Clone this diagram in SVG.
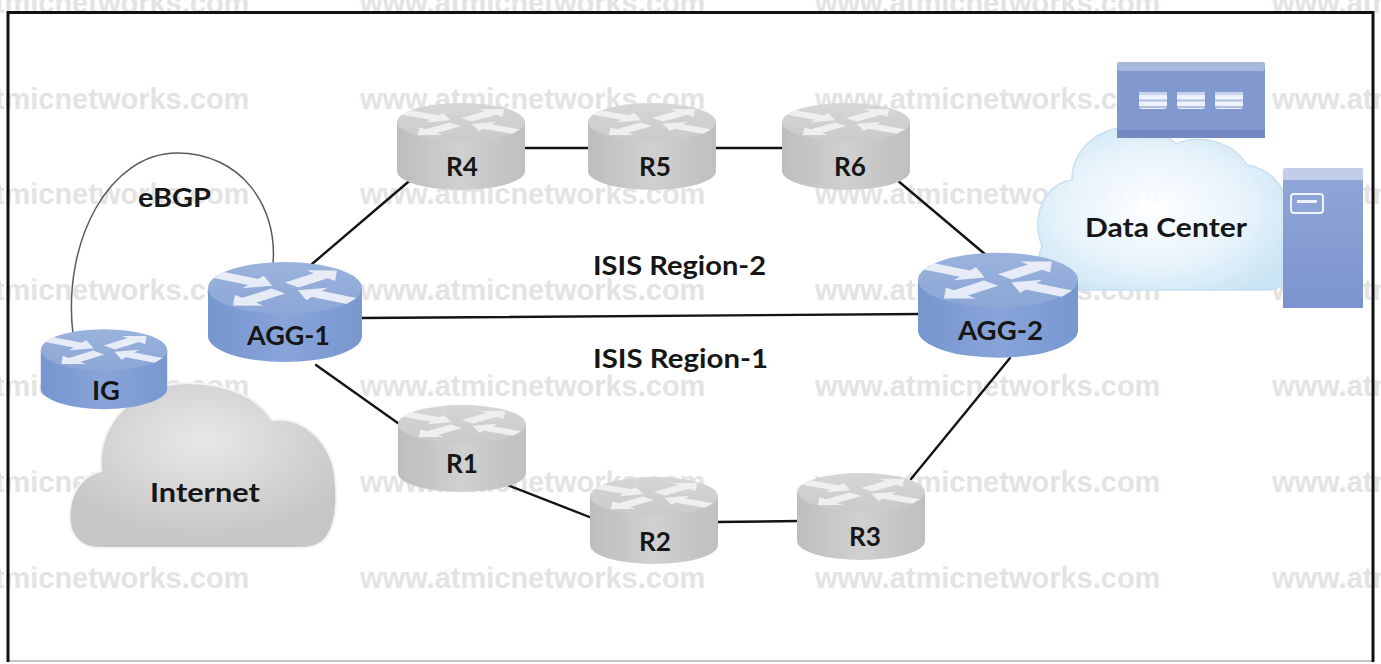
<svg xmlns="http://www.w3.org/2000/svg" xmlns:xlink="http://www.w3.org/1999/xlink" width="1381" height="664" viewBox="0 0 1381 664">
  <defs>
    <style>
      .wm { font-family: "Liberation Sans", Arial, sans-serif; font-weight: bold; font-size: 29px; fill: #e3e3e3; }
      .lbl { font-family: Lato, "Open Sans", "Liberation Sans", sans-serif; font-weight: bold; font-size: 26px; fill: #161616; }
      .link { stroke: #141414; stroke-width: 2.4; fill: none; stroke-linecap: round; }
      .arc { stroke: #5a5a5a; stroke-width: 1.5; fill: none; }
    </style>
    <linearGradient id="gSide" x1="0" y1="0" x2="1" y2="0">
      <stop offset="0" stop-color="#bdbdbd"/>
      <stop offset="0.5" stop-color="#d0d0d0"/>
      <stop offset="1" stop-color="#bfbfbf"/>
    </linearGradient>
    <linearGradient id="gTop" x1="0" y1="0" x2="0" y2="1">
      <stop offset="0" stop-color="#d6d6d6"/>
      <stop offset="1" stop-color="#cacaca"/>
    </linearGradient>
    <linearGradient id="bSide" x1="0" y1="0" x2="1" y2="0">
      <stop offset="0" stop-color="#7696cf"/>
      <stop offset="0.5" stop-color="#88a4d9"/>
      <stop offset="1" stop-color="#7898d0"/>
    </linearGradient>
    <linearGradient id="bTop" x1="0" y1="0" x2="0" y2="1">
      <stop offset="0" stop-color="#9ab2dd"/>
      <stop offset="1" stop-color="#8ca6d6"/>
    </linearGradient>
    <radialGradient id="netFill" cx="0.5" cy="0.35" r="0.6">
      <stop offset="0" stop-color="#e8e8e8"/>
      <stop offset="1" stop-color="#c6c6c6"/>
    </radialGradient>
    <radialGradient id="dcFill" cx="0.45" cy="0.5" r="0.6">
      <stop offset="0" stop-color="#ffffff"/>
      <stop offset="0.6" stop-color="#e6f3fb"/>
      <stop offset="1" stop-color="#c9e3f4"/>
    </radialGradient>
    <linearGradient id="srvFront" x1="0" y1="0" x2="0" y2="1">
      <stop offset="0" stop-color="#8fa5d8"/>
      <stop offset="1" stop-color="#7b94cd"/>
    </linearGradient>

    <!-- router arrows, drawn in a round face and squashed onto the top ellipse -->
    <polygon id="arrow" points="0,-9 36,-9 36,-19 56,0 36,19 36,9 0,9"/>
    <g id="arrows">
      <use xlink:href="#arrow" href="#arrow" transform="translate(-60,-34) rotate(30)"/>
      <use xlink:href="#arrow" href="#arrow" transform="translate(60,34) rotate(210)"/>
      <use xlink:href="#arrow" href="#arrow" transform="translate(6,-8) rotate(-43)"/>
      <use xlink:href="#arrow" href="#arrow" transform="translate(-6,8) rotate(137)"/>
    </g>

    <!-- grey router: top ellipse centred on the origin -->
    <g id="rg">
      <path d="M-64,0 V49 A64,19 0 0 0 64,49 V0 Z" fill="url(#gSide)"/>
      <ellipse rx="64" ry="19" fill="url(#gTop)"/>
      <g transform="scale(0.92,0.28)" fill="#f3f3f3" opacity="0.9">
        <use xlink:href="#arrows" href="#arrows"/>
      </g>
    </g>

    <!-- blue router -->
    <g id="rb">
      <path d="M-80,0 V48 A80,26 0 0 0 80,48 V0 Z" fill="url(#bSide)"/>
      <ellipse rx="80" ry="26" fill="url(#bTop)"/>
      <g transform="scale(1.15,0.38)" fill="#eef2fa" opacity="0.92">
        <use xlink:href="#arrows" href="#arrows"/>
      </g>
    </g>

    <!-- small disk stack used on the storage array -->
    <g id="disk" fill="#eef2fa">
      <rect x="-14" y="-8" width="28" height="16" rx="3"/>
      <rect x="-14" y="-9" width="28" height="3" fill="#c9d3ee"/>
      <rect x="-14" y="-1.5" width="28" height="2" fill="#aebde4"/>
      <rect x="-14" y="5" width="28" height="2" fill="#aebde4"/>
    </g>
  </defs>

  <rect width="1381" height="664" fill="#ffffff"/>

  <!-- background watermark rows -->
  <g id="watermark" class="wm">
    <text x="-96" y="13">www.atmicnetworks.com</text>
    <text x="360" y="13">www.atmicnetworks.com</text>
    <text x="815" y="13">www.atmicnetworks.com</text>
    <text x="1272" y="13">www.atmicnetworks.com</text>
    <text x="-96" y="109">www.atmicnetworks.com</text>
    <text x="360" y="109">www.atmicnetworks.com</text>
    <text x="815" y="109">www.atmicnetworks.com</text>
    <text x="1272" y="109">www.atmicnetworks.com</text>
    <text x="-96" y="204">www.atmicnetworks.com</text>
    <text x="360" y="204">www.atmicnetworks.com</text>
    <text x="815" y="204">www.atmicnetworks.com</text>
    <text x="1272" y="204">www.atmicnetworks.com</text>
    <text x="-96" y="300">www.atmicnetworks.com</text>
    <text x="360" y="300">www.atmicnetworks.com</text>
    <text x="815" y="300">www.atmicnetworks.com</text>
    <text x="1272" y="300">www.atmicnetworks.com</text>
    <text x="-96" y="396">www.atmicnetworks.com</text>
    <text x="360" y="396">www.atmicnetworks.com</text>
    <text x="815" y="396">www.atmicnetworks.com</text>
    <text x="1272" y="396">www.atmicnetworks.com</text>
    <text x="-96" y="492">www.atmicnetworks.com</text>
    <text x="360" y="492">www.atmicnetworks.com</text>
    <text x="815" y="492">www.atmicnetworks.com</text>
    <text x="1272" y="492">www.atmicnetworks.com</text>
    <text x="-96" y="588">www.atmicnetworks.com</text>
    <text x="360" y="588">www.atmicnetworks.com</text>
    <text x="815" y="588">www.atmicnetworks.com</text>
    <text x="1272" y="588">www.atmicnetworks.com</text>
  </g>

  <!-- outer frame -->
  <g id="frame">
    <line x1="7" y1="661" x2="1374" y2="661" stroke="#c4c4c4" stroke-width="2"/>
    <path d="M8,662 V12.5 H1373 V662" fill="none" stroke="#111" stroke-width="3"/>
  </g>

  <!-- links between devices -->
  <g id="connectors">
    <path class="arc" d="M73,334 C62,240 110,153 177,153 C240,153 278,205 273,264"/>
    <line class="link" x1="312" y1="264" x2="414" y2="177"/>
    <line class="link" x1="360" y1="318" x2="922" y2="314"/>
    <line class="link" x1="316" y1="365" x2="402" y2="426"/>
    <line class="link" x1="524" y1="148" x2="590" y2="148"/>
    <line class="link" x1="714" y1="148" x2="784" y2="148"/>
    <line class="link" x1="897" y1="180" x2="986" y2="255"/>
    <line class="link" x1="505" y1="484" x2="592" y2="518"/>
    <line class="link" x1="716" y1="522" x2="800" y2="521"/>
    <line class="link" x1="911" y1="479" x2="1010" y2="358"/>
  </g>

  <!-- clouds -->
  <g id="Internet">
    <path d="M100,548 C80,548 67,535 70,510 C72,488 85,475 101,471 C96,420 140,382 190,383 C230,384 258,398 272,420 C302,416 330,440 335,475 C338,500 337,530 322,542 C315,547 308,548 300,548 Z" fill="url(#netFill)" stroke="#f4f4f4" stroke-width="2"/>
    <text class="lbl" x="150" y="502" textLength="110" lengthAdjust="spacingAndGlyphs">Internet</text>
  </g>

  <g id="DataCenter">
    <path d="M1062,290 C1040,290 1034,266 1042,246 C1030,214 1046,184 1072,180 C1072,150 1097,127 1132,127 C1152,127 1166,134 1176,144 C1198,134 1232,140 1247,165 C1277,170 1296,200 1291,235 C1300,256 1295,286 1270,290 Z" fill="url(#dcFill)" stroke="#c4def1" stroke-width="1.5" opacity="0.95"/>
    <!-- storage array -->
    <rect x="1117" y="62" width="148" height="76" rx="3" fill="#8299cf"/>
    <rect x="1117" y="62" width="148" height="9" rx="3" fill="#a7b8e0"/>
    <rect x="1117" y="130" width="148" height="8" fill="#7389c2"/>
    <use xlink:href="#disk" href="#disk" transform="translate(1153,101)"/>
    <use xlink:href="#disk" href="#disk" transform="translate(1191,101)"/>
    <use xlink:href="#disk" href="#disk" transform="translate(1229,101)"/>
    <!-- tower server -->
    <rect x="1283" y="168" width="80" height="14" rx="2" fill="#c2cdea"/>
    <rect x="1283" y="180" width="80" height="128" fill="url(#srvFront)"/>
    <rect x="1291" y="194" width="32" height="19" rx="3" fill="#8ea4d8" stroke="#eef2fa" stroke-width="2"/>
    <rect x="1297" y="200" width="20" height="3" fill="#eef2fa"/>
    <text class="lbl" x="1085" y="237" textLength="162" lengthAdjust="spacingAndGlyphs">Data Center</text>
  </g>

  <!-- routers -->
  <g id="R4">
    <use xlink:href="#rg" href="#rg" transform="translate(461,122)"/>
    <text class="lbl" x="446" y="176" textLength="32" lengthAdjust="spacingAndGlyphs">R4</text>
  </g>
  <g id="R5">
    <use xlink:href="#rg" href="#rg" transform="translate(652,122)"/>
    <text class="lbl" x="639" y="176" textLength="32" lengthAdjust="spacingAndGlyphs">R5</text>
  </g>
  <g id="R6">
    <use xlink:href="#rg" href="#rg" transform="translate(846,122)"/>
    <text class="lbl" x="834" y="176" textLength="32" lengthAdjust="spacingAndGlyphs">R6</text>
  </g>
  <g id="R1">
    <use xlink:href="#rg" href="#rg" transform="translate(462,424)"/>
    <text class="lbl" x="446" y="473" textLength="32" lengthAdjust="spacingAndGlyphs">R1</text>
  </g>
  <g id="R2">
    <use xlink:href="#rg" href="#rg" transform="translate(654,496)"/>
    <text class="lbl" x="639" y="551" textLength="32" lengthAdjust="spacingAndGlyphs">R2</text>
  </g>
  <g id="R3">
    <use xlink:href="#rg" href="#rg" transform="translate(861,492)"/>
    <text class="lbl" x="849" y="546" textLength="32" lengthAdjust="spacingAndGlyphs">R3</text>
  </g>

  <g id="AGG-1">
    <use xlink:href="#rb" href="#rb" transform="translate(285,288) scale(0.9625,1)"/>
    <text class="lbl" x="247" y="345" textLength="83" lengthAdjust="spacingAndGlyphs">AGG-1</text>
  </g>
  <g id="AGG-2">
    <use xlink:href="#rb" href="#rb" transform="translate(998,280) scale(1,1.05)"/>
    <text class="lbl" x="958" y="340" textLength="85" lengthAdjust="spacingAndGlyphs">AGG-2</text>
  </g>
  <g id="IG">
    <use xlink:href="#rb" href="#rb" transform="translate(104,350) scale(0.79,0.8)"/>
    <text class="lbl" x="92" y="400" textLength="28" lengthAdjust="spacingAndGlyphs">IG</text>
  </g>

  <!-- area labels -->
  <g id="labels">
    <text class="lbl" x="138" y="207" textLength="73" lengthAdjust="spacingAndGlyphs">eBGP</text>
    <text class="lbl" x="593" y="275" textLength="173" lengthAdjust="spacingAndGlyphs">ISIS Region-2</text>
    <text class="lbl" x="593" y="368" textLength="175" lengthAdjust="spacingAndGlyphs">ISIS Region-1</text>
  </g>
</svg>
